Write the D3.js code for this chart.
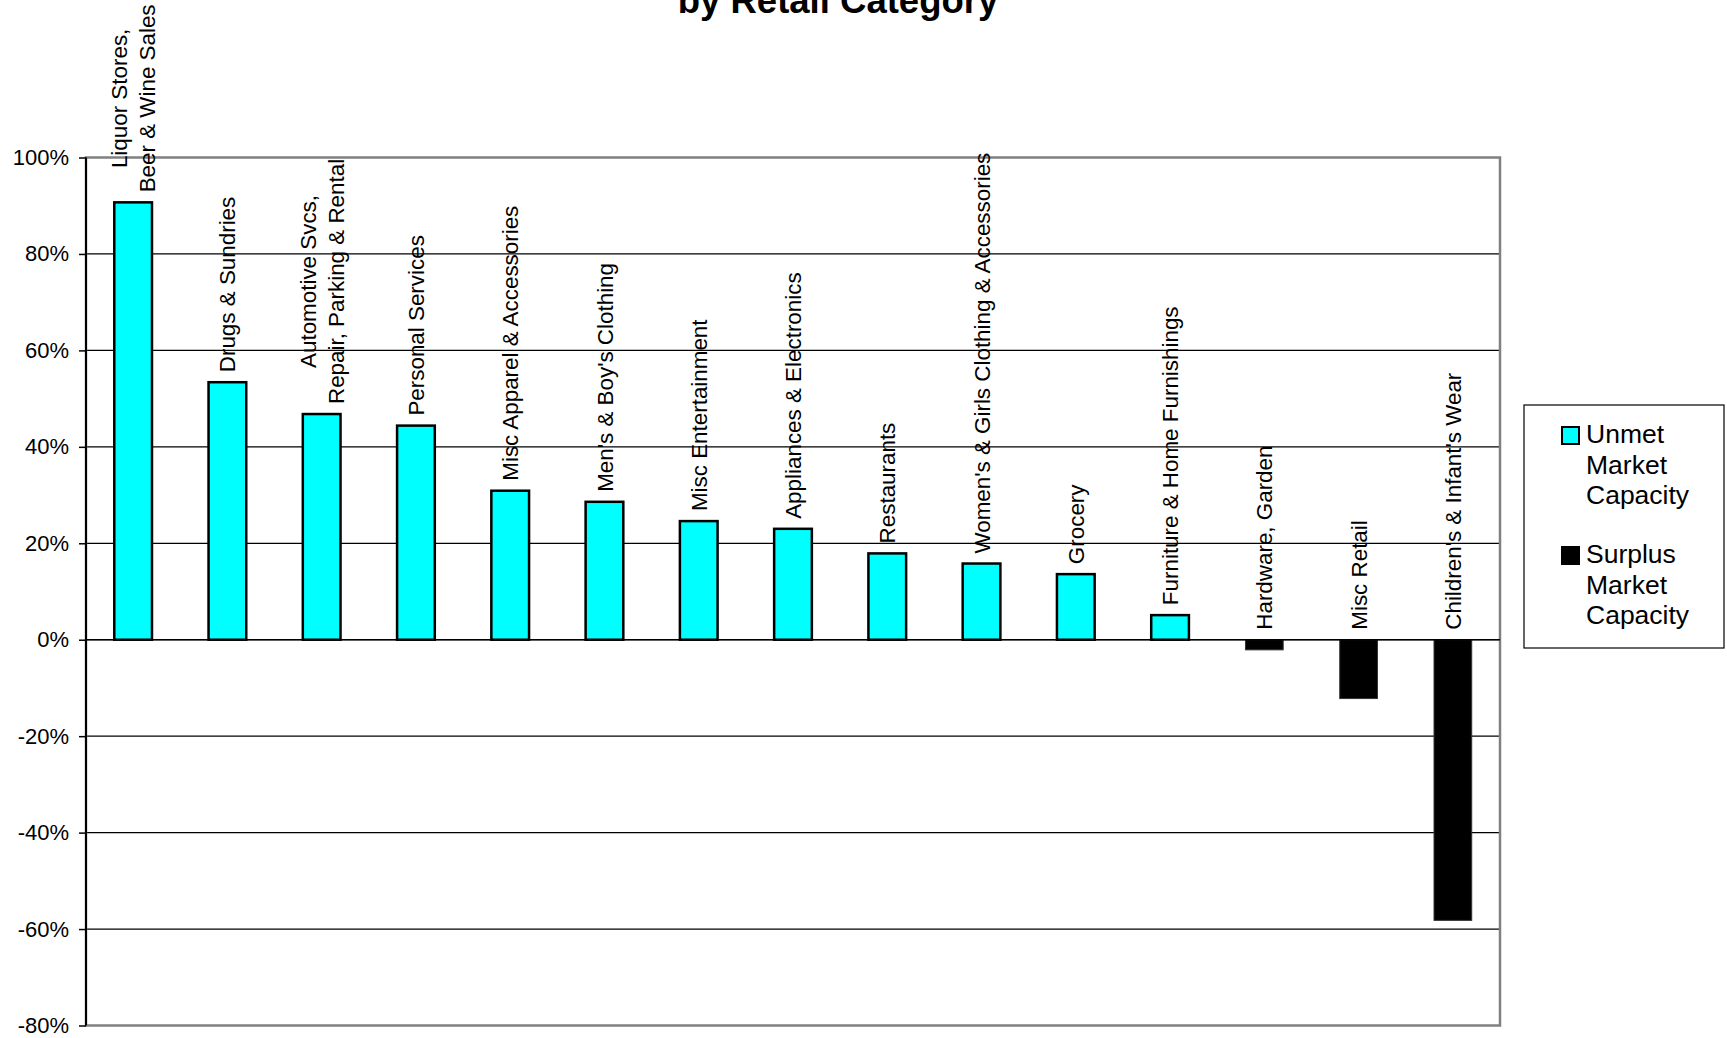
<!DOCTYPE html>
<html>
<head>
<meta charset="utf-8">
<script src="https://cdn.jsdelivr.net/npm/d3@7"></script>
<style>
  body { margin: 0; background: #fff; }
  text { font-family: "Liberation Sans", Arial, sans-serif; fill: #000; }
</style>
</head>
<body>
<div id="chart"></div>
<script>
// category labels (\n marks a line break in the label)
var categories = [
  "Liquor Stores,\nBeer & Wine Sales", "Drugs & Sundries",
  "Automotive Svcs,\nRepair, Parking & Rental", "Personal Services",
  "Misc Apparel & Accessories", "Men's & Boy's Clothing", "Misc Entertainment",
  "Appliances & Electronics", "Restaurants", "Women's & Girls Clothing & Accessories",
  "Grocery", "Furniture & Home Furnishings", "Hardware, Garden", "Misc Retail",
  "Children's & Infant's Wear"
];
// values in percent
var unmetValues   = [90.7, 53.4, 46.8, 44.4, 30.9, 28.6, 24.6, 23.0, 17.9, 15.8, 13.6, 5.1, null, null, null];
var surplusValues = [null, null, null, null, null, null, null, null, null, null, null, null, -2.1, -12.2, -58.2];
var yTicks = [100, 80, 60, 40, 20, 0, -20, -40, -60, -80];
var seriesNames = ["Unmet Market Capacity", "Surplus Market Capacity"];
var seriesColors = ["#00ffff", "#000000"];

var width = 1727, height = 1038;
var plot = {left: 86, right: 1500, top: 157.5, bottom: 1025.5};

var svg = d3.select("#chart").append("svg")
    .attr("width", width)
    .attr("height", height);

var x = d3.scaleBand()
    .domain(d3.range(categories.length))
    .range([plot.left, plot.right]);

var y = d3.scaleLinear()
    .domain([-80, 100])
    .range([plot.bottom, plot.top]);

// title (its first line falls above the page)
svg.append("text")
    .attr("x", 838)
    .attr("y", 13)
    .attr("text-anchor", "middle")
    .style("font-size", "36.5px")
    .style("font-weight", "bold")
    .text("by Retail Category");

// gridlines
svg.append("g").selectAll("line")
    .data(yTicks)
  .enter().append("line")
    .attr("x1", plot.left).attr("x2", plot.right)
    .attr("y1", function(d) { return y(d); })
    .attr("y2", function(d) { return y(d); })
    .attr("stroke", "#000")
    .attr("stroke-width", 1.2);

// plot frame
svg.append("rect")
    .attr("x", plot.left).attr("y", plot.top)
    .attr("width", plot.right - plot.left)
    .attr("height", plot.bottom - plot.top)
    .attr("fill", "none")
    .attr("stroke", "#808080")
    .attr("stroke-width", 2.5);

// y axis
var yaxis = d3.axisLeft(y)
    .tickValues(yTicks)
    .tickSize(7)
    .tickPadding(10)
    .tickFormat(function(d) { return d + "%"; });

var gy = svg.append("g")
    .attr("transform", "translate(" + plot.left + ",0)")
    .call(yaxis);
gy.select(".domain").remove();
gy.selectAll(".tick line").attr("stroke", "#000").attr("stroke-width", 1.5);
gy.selectAll(".tick text")
    .style("font-size", "22px")
    .style("font-family", "'Liberation Sans', Arial, sans-serif")
    .attr("fill", "#000");

svg.append("line")
    .attr("x1", plot.left).attr("x2", plot.left)
    .attr("y1", plot.top).attr("y2", plot.bottom)
    .attr("stroke", "#000").attr("stroke-width", 2);

// bars
var barW = x.bandwidth() * 0.4;
function barX(i) { return x(i) + (x.bandwidth() - barW) / 2; }

[unmetValues, surplusValues].forEach(function(vals, s) {
  svg.append("g").selectAll("rect")
      .data(vals.map(function(v, i) { return {i: i, v: v}; })
                .filter(function(d) { return d.v !== null; }))
    .enter().append("rect")
      .attr("x", function(d) { return barX(d.i); })
      .attr("width", barW)
      .attr("y", function(d) { return y(Math.max(0, d.v)); })
      .attr("height", function(d) { return Math.abs(y(d.v) - y(0)); })
      .attr("fill", seriesColors[s])
      .attr("stroke", s === 0 ? "#000" : "#333")
      .attr("stroke-width", s === 0 ? 2.5 : 1);
});

// zero line
svg.append("line")
    .attr("x1", plot.left).attr("x2", plot.right)
    .attr("y1", y(0)).attr("y2", y(0))
    .attr("stroke", "#000").attr("stroke-width", 1.5);

// rotated category labels above each bar
categories.forEach(function(cat, i) {
  var v = unmetValues[i] !== null ? unmetValues[i] : surplusValues[i];
  var base = y(Math.max(0, v)) - 10;
  var cx = x(i) + x.bandwidth() / 2;
  var lines = cat.split("\n");
  var g = svg.append("g")
      .attr("transform", "translate(" + cx + "," + base + ") rotate(-90)");
  var texts = lines.map(function(line, k) {
    return g.append("text")
        .attr("y", (k - (lines.length - 1) / 2) * 28)
        .attr("dy", "0.36em")
        .attr("text-anchor", "middle")
        .style("font-size", "22.4px")
        .text(line);
  });
  var maxLen = d3.max(texts, function(t) { return t.node().getComputedTextLength(); });
  texts.forEach(function(t) { t.attr("x", maxLen / 2); });
});

// legend
var legend = svg.append("g");
legend.append("rect")
    .attr("x", 1524).attr("y", 405)
    .attr("width", 200).attr("height", 243)
    .attr("fill", "#fff")
    .attr("stroke", "#000")
    .attr("stroke-width", 1.2);

seriesNames.forEach(function(name, s) {
  var top = 427 + s * 120;
  legend.append("rect")
      .attr("x", 1562).attr("y", top)
      .attr("width", 17).attr("height", 17)
      .attr("fill", seriesColors[s])
      .attr("stroke", "#000")
      .attr("stroke-width", 2);
  name.split(" ").forEach(function(word, k) {
    legend.append("text")
        .attr("x", 1586)
        .attr("y", top + 16 + k * 30.5)
        .style("font-size", "26.5px")
        .text(word);
  });
});
</script>
</body>
</html>
